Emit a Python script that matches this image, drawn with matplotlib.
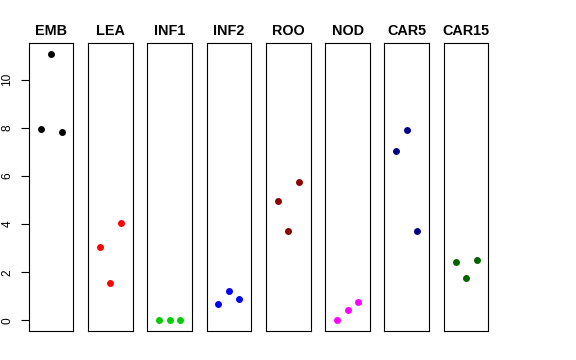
import matplotlib
matplotlib.use("Agg")
import matplotlib.pyplot as plt

plt.rcParams['font.family'] = ['Liberation Sans', 'DejaVu Sans']

tissues = ["EMB", "LEA", "INF1", "INF2", "ROO", "NOD", "CAR5", "CAR15"]
colors = ["#000000", "#FF0000", "#00CD00", "#0000FF", "#8B0000", "#FF00FF", "#00008B", "#006400"]
emb = [7.95, 11.08, 7.81]
lea = [3.03, 1.54, 4.04]
inf1 = [0.0, 0.0, 0.0]
inf2 = [0.66, 1.22, 0.90]
roo = [4.97, 3.70, 5.75]
nod = [0.0, 0.43, 0.76]
car5 = [7.04, 7.90, 3.72]
car15 = [2.44, 1.75, 2.49]
values = [emb, lea, inf1, inf2, roo, nod, car5, car15]
reps = [1, 2, 3]
yticks = [0, 2, 4, 6, 8, 10]

W, H = 576, 360
fig = plt.figure(figsize=(W / 100, H / 100), dpi=100)

left0 = 28.7
pw = 44.7
step = 59.3
top = 43.0
bottom = 331.0

ymin, ymax = 0.0, max(max(v) for v in values)
pad = (ymax - ymin) * 0.04

for i, (name, col, vals) in enumerate(zip(tissues, colors, values)):
    x0 = left0 + i * step
    ax = fig.add_axes([x0 / W, (H - bottom) / H, pw / W, (bottom - top) / H])
    ax.plot(reps, vals, 'o', color=col, markersize=5, markeredgewidth=0)
    ax.set_xlim(2 - 2.125, 2 + 2.125)
    ax.set_ylim(ymin - pad, ymax + pad)
    for s in ax.spines.values():
        s.set_linewidth(0.8)
        s.set_color("black")
    ax.set_xticks([])
    ax.set_title(name, fontsize=10.4, fontweight='bold', pad=6)
    if i == 0:
        ax.set_yticks(yticks)
        ax.set_yticklabels([str(t) for t in yticks], rotation=90, va='center', fontsize=8.6)
        ax.tick_params(axis='y', length=5.5, width=0.8, pad=5.5)
    else:
        ax.set_yticks([])

fig.savefig("out.png", dpi=100)
